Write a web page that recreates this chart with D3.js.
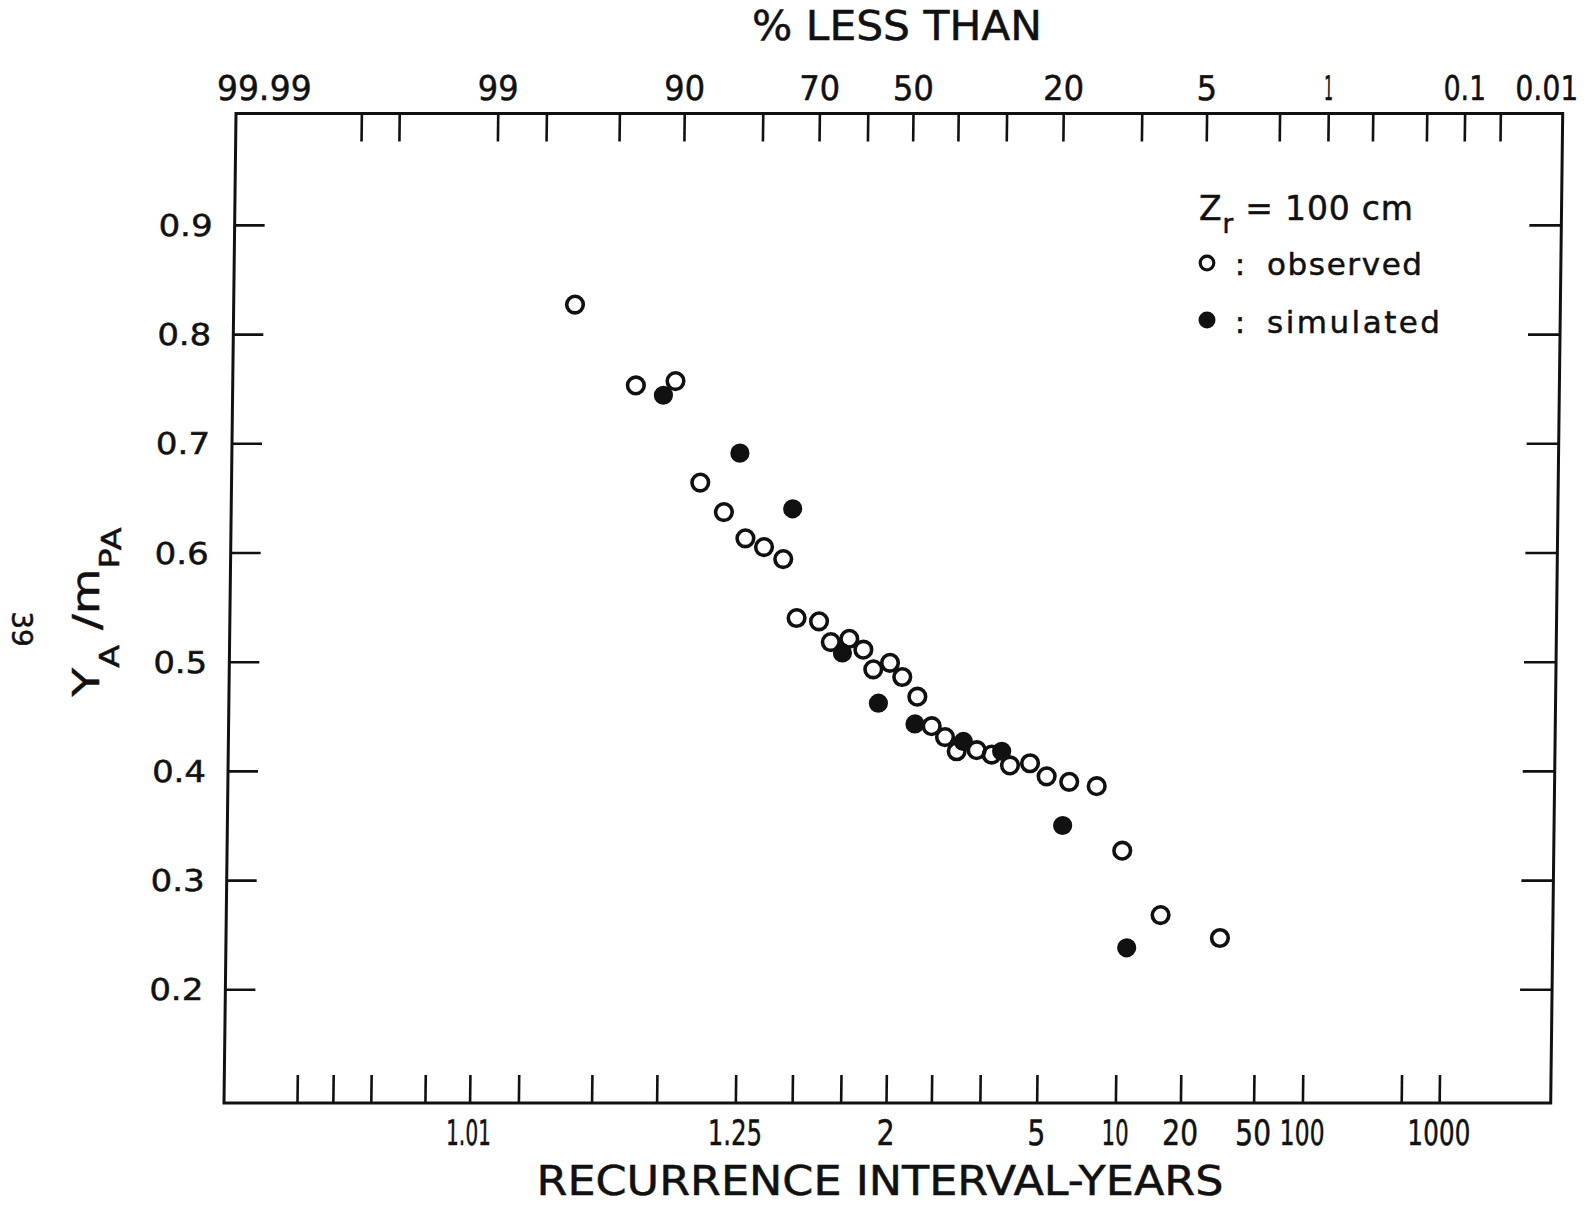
<!DOCTYPE html>
<html><head><meta charset="utf-8">
<script src="https://cdn.jsdelivr.net/npm/d3@7"></script>
<style>
body{margin:0;background:#fff}
svg{display:block}
text{font-family:"DejaVu Sans",sans-serif;fill:#111;stroke:#111;stroke-width:0.5px}
</style>
</head><body>
<svg id="chart" width="1594" height="1205"></svg>
<script>
// ---------------- data ----------------
const observedT = [1.038, 1.080, 1.124, 1.163, 1.208, 1.258, 1.309, 1.371, 1.423, 1.520, 1.580, 1.685, 1.778, 1.852, 1.988, 2.104, 2.266, 2.444, 2.630, 2.815, 3.178, 3.504, 3.976, 4.604, 5.244, 6.32, 8.07, 10.38, 15.6, 31.4];
const observedY = [0.827, 0.753, 0.757, 0.664, 0.637, 0.613, 0.605, 0.594, 0.540, 0.537, 0.518, 0.521, 0.511, 0.493, 0.499, 0.486, 0.468, 0.441, 0.431, 0.418, 0.419, 0.415, 0.405, 0.407, 0.395, 0.390, 0.386, 0.327, 0.268, 0.247];
const simulatedT = [1.109, 1.242, 1.403, 1.645, 1.895, 2.243, 2.925, 3.747, 6.006, 10.98];
const simulatedY = [0.744, 0.691, 0.640, 0.508, 0.462, 0.443, 0.427, 0.418, 0.350, 0.238];

const topTickPct = [99.9, 99.8, 99, 98, 95, 90, 80, 70, 60, 50, 40, 30, 20, 10, 5, 2, 1, 0.5, 0.2, 0.1, 0.05];
const topLabelPct = [99.99, 99, 90, 70, 50, 20, 5, 1, 0.1, 0.01];
const topLabelText = ["99.99", "99", "90", "70", "50", "20", "5", "1", "0.1", "0.01"];
const bottomTickPct = [99.95, 99.9, 99.8, 99.5, 99, 98, 95, 90, 80, 70, 60, 50, 40, 30, 20, 10, 5, 2, 1, 0.2, 0.1];
const bottomLabelT = [1.01, 1.25, 2, 5, 10, 20, 50, 100, 1000];
const bottomLabelText = ["1.01", "1.25", "2", "5", "10", "20", "50", "100", "1000"];
const yTicks = [0.2, 0.3, 0.4, 0.5, 0.6, 0.7, 0.8, 0.9];
const yTickText = ["0.2", "0.3", "0.4", "0.5", "0.6", "0.7", "0.8", "0.9"];

const topTitle = "% LESS THAN";
const bottomTitle = "RECURRENCE INTERVAL-YEARS";
const legendNote = ["Z", "r", " = 100 cm"];
const legendLabels = ["observed", "simulated"];
const pageNumber = "39";

// ---------------- helpers ----------------
function normInv(p){
  const a=[-3.969683028665376e+01,2.209460984245205e+02,-2.759285104469687e+02,1.383577518672690e+02,-3.066479806614716e+01,2.506628277459239e+00];
  const b=[-5.447609879822406e+01,1.615858368580409e+02,-1.556989798598866e+02,6.680131188771972e+01,-1.328068155288572e+01];
  const c=[-7.784894002430293e-03,-3.223964580411365e-01,-2.400758277161838e+00,-2.549732539343734e+00,4.374664141464968e+00,2.938163982698783e+00];
  const d=[7.784695709041462e-03,3.224671290700398e-01,2.445134137142996e+00,3.754408661907416e+00];
  const pl=0.02425, ph=1-pl; let q,r;
  if(p<pl){q=Math.sqrt(-2*Math.log(p));return (((((c[0]*q+c[1])*q+c[2])*q+c[3])*q+c[4])*q+c[5])/((((d[0]*q+d[1])*q+d[2])*q+d[3])*q+1);}
  if(p<=ph){q=p-0.5;r=q*q;return (((((a[0]*r+a[1])*r+a[2])*r+a[3])*r+a[4])*r+a[5])*q/(((((b[0]*r+b[1])*r+b[2])*r+b[3])*r+b[4])*r+1);}
  q=Math.sqrt(-2*Math.log(1-p));return -(((((c[0]*q+c[1])*q+c[2])*q+c[3])*q+c[4])*q+c[5])/((((d[0]*q+d[1])*q+d[2])*q+d[3])*q+1);
}
const pctZ = p => normInv(p/100);
const tZ = T => normInv(1/T);
function estWidth(s, digit, one, dot){let w=0;for(const ch of s){w+= ch==='1'?one:(ch==='.'?dot:digit);}return w;}

// ---------------- layout ----------------
const W = 1594, H = 1205;
const pLeft = 236, pRight = 1562.7, pTop = 113.5, pBottom = 1103;
const skewDeg = Math.atan(-12/989.5) * 180 / Math.PI;

// normal-probability scales (z -> x), one for the top axis and one for the bottom axis
const xTop = d3.scaleLinear().domain([-1, 1]).range([913 + 178.5, 913 - 178.5]);
const xBot = d3.scaleLinear().domain([-1, 1]).range([898 + 179, 898 - 179]);
const y = d3.scaleLinear().domain([0.0959, 1.002]).range([pBottom, pTop]);

const svg = d3.select("#chart");
svg.append("rect").attr("width", W).attr("height", H).attr("fill", "#fff");

const g = svg.append("g")
  .attr("transform", `translate(0,${pTop}) skewX(${skewDeg}) translate(0,${-pTop})`);

// frame
g.append("rect").attr("x", pLeft).attr("y", pTop)
  .attr("width", pRight - pLeft).attr("height", pBottom - pTop)
  .attr("fill", "none").attr("stroke", "#111").attr("stroke-width", 3);

function styleAxis(sel){
  sel.select(".domain").remove();
  sel.selectAll(".tick line").attr("stroke", "#111").attr("stroke-width", 2.6);
  sel.selectAll(".tick text").remove();
}

// top ticks
g.append("g").attr("transform", `translate(0,${pTop})`)
  .call(d3.axisTop(xTop).tickValues(topTickPct.map(pctZ)).tickSize(-28).tickFormat(""))
  .call(styleAxis);
// bottom ticks
g.append("g").attr("transform", `translate(0,${pBottom})`)
  .call(d3.axisBottom(xBot).tickValues(bottomTickPct.map(pctZ)).tickSize(-28).tickFormat(""))
  .call(styleAxis);
// left ticks
g.append("g").attr("transform", `translate(${pLeft},0)`)
  .call(d3.axisLeft(y).tickValues(yTicks).tickSize(-30).tickFormat(""))
  .call(styleAxis);
// right ticks
g.append("g").attr("transform", `translate(${pRight},0)`)
  .call(d3.axisRight(y).tickValues(yTicks).tickSize(-32).tickFormat(""))
  .call(styleAxis);

// top labels
g.selectAll("text.toplab").data(topLabelPct).enter().append("text")
  .attr("class", "toplab")
  .attr("x", d => Math.max(pLeft + 28, Math.min(pRight - 16, xTop(pctZ(d)))))
  .attr("y", 100.5)
  .attr("text-anchor", "middle")
  .attr("font-size", 34)
  .attr("textLength", (d, i) => estWidth(topLabelText[i], 20.5, 9, 13))
  .attr("lengthAdjust", "spacingAndGlyphs")
  .text((d, i) => topLabelText[i]);

// bottom labels
g.selectAll("text.botlab").data(bottomLabelT).enter().append("text")
  .attr("class", "botlab")
  .attr("x", d => xBot(tZ(d)))
  .attr("y", 1145)
  .attr("text-anchor", "middle")
  .attr("font-size", 35)
  .attr("textLength", (d, i) => estWidth(bottomLabelText[i], 18, 9, 9))
  .attr("lengthAdjust", "spacingAndGlyphs")
  .text((d, i) => bottomLabelText[i]);

// left labels
g.selectAll("text.ylab").data(yTicks).enter().append("text")
  .attr("class", "ylab")
  .attr("x", pLeft - 22)
  .attr("y", d => y(d))
  .attr("dy", "0.37em")
  .attr("text-anchor", "end")
  .attr("font-size", 30)
  .attr("textLength", (d, i) => estWidth(yTickText[i], 20.5, 9, 13))
  .attr("lengthAdjust", "spacingAndGlyphs")
  .text((d, i) => yTickText[i]);

// data: observed (open) and simulated (filled)
const obs = observedT.map((t, i) => ({t, v: observedY[i]}));
const sim = simulatedT.map((t, i) => ({t, v: simulatedY[i]}));
g.selectAll("circle.obs").data(obs).enter().append("circle")
  .attr("class", "obs")
  .attr("cx", d => xBot(tZ(d.t))).attr("cy", d => y(d.v))
  .attr("r", 8.3).attr("fill", "none").attr("stroke", "#111").attr("stroke-width", 3.6);
g.selectAll("circle.sim").data(sim).enter().append("circle")
  .attr("class", "sim")
  .attr("cx", d => xBot(tZ(d.t))).attr("cy", d => y(d.v))
  .attr("r", 9.6).attr("fill", "#111");

// axis titles
svg.append("text").attr("x", 897).attr("y", 40).attr("text-anchor", "middle")
  .attr("font-size", 40).attr("textLength", 290).attr("lengthAdjust", "spacingAndGlyphs")
  .text(topTitle);
svg.append("text").attr("x", 880).attr("y", 1195).attr("text-anchor", "middle")
  .attr("font-size", 40).attr("textLength", 687).attr("lengthAdjust", "spacingAndGlyphs")
  .text(bottomTitle);

// y axis title  Y_A / m_PA
const yt = svg.append("text")
  .attr("transform", "translate(99,612) rotate(-90)")
  .attr("text-anchor", "middle")
  .attr("textLength", 169).attr("lengthAdjust", "spacingAndGlyphs");
yt.append("tspan").attr("font-size", 38).text("Y");
yt.append("tspan").attr("font-size", 27).attr("dy", 20).text("A");
yt.append("tspan").attr("font-size", 38).attr("dy", -20).text(" /m");
yt.append("tspan").attr("font-size", 27).attr("dy", 20).text("P");
yt.append("tspan").attr("font-size", 27).attr("dy", 2).text("A");

// page number
svg.append("text").attr("transform", "translate(22.5,629) rotate(90)")
  .attr("text-anchor", "middle").attr("dy", "0.36em").attr("font-size", 28)
  .text(pageNumber);

// legend
const lz = svg.append("text").attr("x", 1199).attr("y", 220)
  .attr("textLength", 214).attr("lengthAdjust", "spacing");
lz.append("tspan").attr("font-size", 33).text(legendNote[0]);
lz.append("tspan").attr("font-size", 26).attr("dy", 13).text(legendNote[1]);
lz.append("tspan").attr("font-size", 33).attr("dy", -13).text(legendNote[2]);

svg.append("circle").attr("cx", 1207).attr("cy", 263).attr("r", 6.8)
  .attr("fill", "none").attr("stroke", "#111").attr("stroke-width", 3.2);
svg.append("circle").attr("cx", 1207).attr("cy", 320).attr("r", 8.5).attr("fill", "#111");
[275, 333].forEach((yy, i) => {
  svg.append("text").attr("x", 1240).attr("y", yy).attr("text-anchor", "middle")
    .attr("font-size", 31).text(":");
  svg.append("text").attr("x", 1267).attr("y", yy).attr("font-size", 31)
    .attr("textLength", i === 0 ? 155 : 173).attr("lengthAdjust", "spacing")
    .text(legendLabels[i]);
});
</script>
</body></html>
